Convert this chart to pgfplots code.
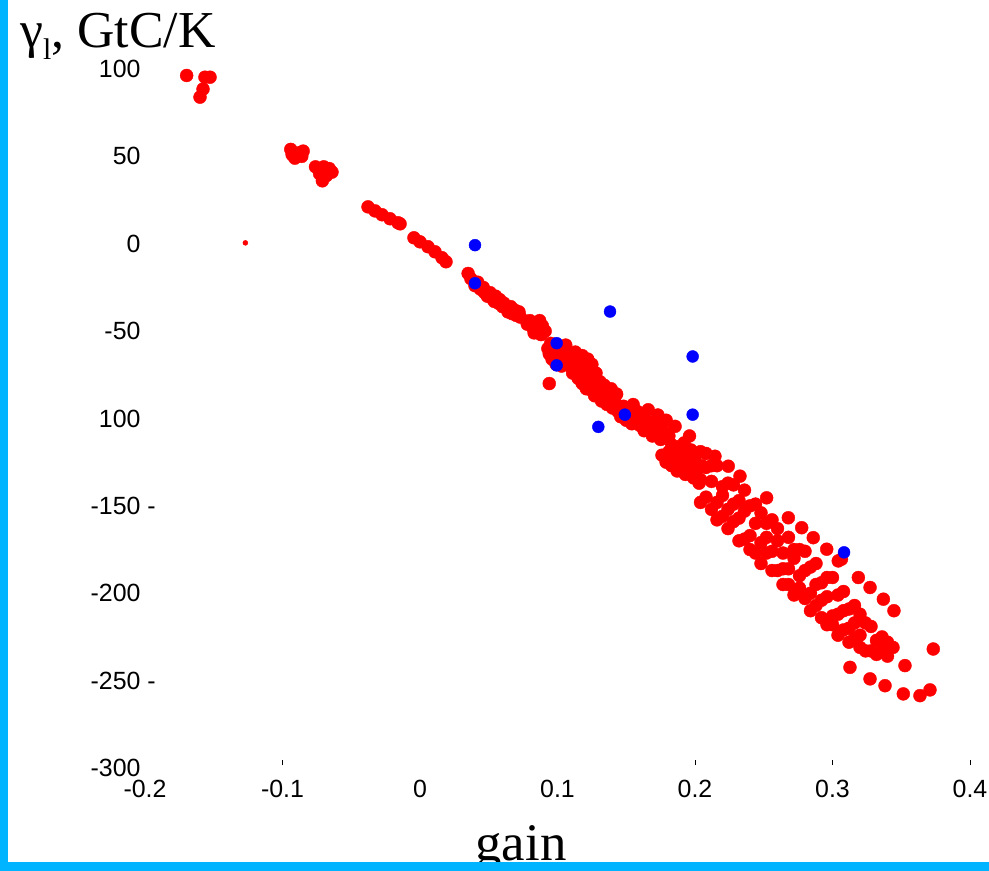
\documentclass[border=0pt]{standalone}
\usepackage{fontspec}
\setmainfont{Liberation Serif}
\newfontfamily\ticksans{Liberation Sans}
\usepackage{pgfplots}
\pgfplotsset{compat=1.18}
\definecolor{frameblue}{RGB}{0,180,255}
\begin{document}
\begin{tikzpicture}
\begin{axis}[
  at={(145bp,103bp)}, anchor=south west,
  scale only axis, width=825bp, height=699bp,
  xmin=-0.2, xmax=0.4, ymin=-300, ymax=100,
  axis line style={draw=none},
  clip=false,
  xtick={-0.2,-0.1,0,0.1,0.2,0.3,0.4},
  xticklabels={-0.2,-0.1,0,0.1,0.2,0.3,0.4},
  ytick={-300,-250,-200,-150,-100,-50,0,50,100},
  yticklabels={-300,{-250\rlap{ -}},-200,{-150\rlap{ -}},100,-50,0,50,100},
  xtick pos=left, ytick pos=left,
  major tick length=0pt,
  ticklabel style={font=\ticksans\fontsize{25}{25}\selectfont},
  /pgf/number format/assume math mode=true,
  xticklabel style={yshift=-9bp},
  yticklabel style={xshift=-1bp},
]
% red points
\addplot[only marks, mark=*, mark size=6.5pt, color=red, mark options={draw=red, fill=red}] coordinates {
(-0.1697,96.3)(-0.1564,95.3)(-0.1527,95.3)(-0.1578,88.5)(-0.160,83.9)
(-0.094,54)(-0.088,52)(-0.085,53)(-0.091,49)(-0.086,50)(-0.093,51)
(-0.076,44)(-0.070,44)(-0.066,43)(-0.073,40)(-0.068,39)(-0.071,36)(-0.064,41)
(-0.0378,21.1)(-0.0327,18.8)(-0.0276,16.6)(-0.0218,14.3)(-0.016,12.0)(-0.0145,11.4)
(-0.0044,3.4)(0,1.1)(0.0058,-1.7)(0.0109,-4.6)(0.016,-8.0)(0.0189,-10.3)
(0.035,-17)(0.037,-20)(0.040,-24)(0.042,-22)(0.044,-26)(0.046,-25)(0.047,-28)(0.049,-30)
(0.051,-28)(0.052,-31)(0.054,-33)(0.055,-30)(0.057,-34)(0.058,-32)(0.060,-36)(0.061,-34)
(0.063,-37)(0.064,-39)(0.066,-36)(0.067,-40)(0.069,-38)(0.070,-41)(0.072,-39)(0.073,-42)
(0.078,-46)(0.080,-44)(0.082,-48)(0.083,-51)(0.085,-46)(0.086,-49)(0.088,-52)(0.089,-47)(0.091,-50)(0.087,-44)
(0.094,-80)
(0.093,-60)(0.094,-63)(0.095,-57)(0.097,-61)(0.098,-65)(0.100,-59)(0.101,-63)(0.102,-67)
(0.104,-61)(0.105,-65)(0.106,-58)(0.096,-66)(0.099,-69)(0.103,-70)
(0.108,-64)(0.109,-70)(0.110,-66)(0.111,-74)(0.112,-68)(0.113,-62)(0.114,-72)(0.115,-77)
(0.116,-69)(0.117,-74)(0.118,-80)(0.119,-71)(0.120,-77)(0.121,-83)(0.122,-73)(0.123,-79)
(0.124,-76)(0.125,-84)(0.126,-80)(0.127,-87)(0.128,-74)(0.129,-82)(0.130,-86)(0.131,-79)
(0.132,-90)(0.133,-84)(0.134,-81)(0.135,-88)(0.136,-92)(0.137,-85)(0.138,-89)(0.139,-83)
(0.140,-94)(0.141,-87)(0.142,-91)(0.143,-86)(0.118,-64)(0.122,-66)(0.125,-69)
(0.144,-96)(0.146,-99)(0.148,-93)(0.150,-101)(0.151,-95)(0.153,-98)(0.154,-103)(0.155,-92)
(0.157,-100)(0.158,-96)(0.160,-104)(0.161,-99)(0.163,-107)(0.164,-101)(0.166,-95)(0.167,-104)
(0.169,-110)(0.170,-102)(0.172,-106)(0.173,-98)(0.175,-112)(0.176,-104)(0.178,-108)(0.179,-101)(0.181,-110)
(0.1855,-104.5)(0.189,-116)(0.196,-110)(0.2145,-121.6)(0.2242,-127.3)(0.2327,-133)
(0.176,-121)(0.179,-125)(0.181,-119)(0.183,-127)(0.185,-123)(0.187,-130)(0.189,-126)(0.191,-121)
(0.193,-132)(0.195,-128)(0.197,-124)(0.199,-134)(0.201,-130)(0.203,-137)(0.205,-127)
(0.183,-115)(0.188,-120)(0.192,-114)(0.197,-118)(0.200,-122)
(0.204,-119)(0.204,-135)(0.204,-148)(0.208,-128)(0.208,-145)(0.208,-120)
(0.212,-152)(0.212,-136)(0.212,-127)(0.216,-127)(0.216,-148)(0.216,-158)
(0.220,-139)(0.220,-156)(0.220,-144)(0.224,-163)(0.224,-137)(0.224,-152)
(0.228,-138)(0.228,-159)(0.228,-149)(0.232,-170)(0.232,-147)(0.232,-157)
(0.236,-141)(0.236,-169)(0.236,-153)(0.240,-167)(0.240,-150)(0.240,-175)
(0.244,-160)(0.244,-177)(0.244,-149)(0.248,-171)(0.248,-154)(0.248,-183)
(0.252,-160)(0.252,-177)(0.252,-168)(0.256,-187)(0.256,-158)(0.256,-176)
(0.260,-170)(0.260,-187)(0.260,-163)(0.264,-195)(0.264,-177)(0.264,-186)
(0.268,-168)(0.268,-186)(0.268,-195)(0.272,-180)(0.272,-201)(0.272,-175)
(0.276,-197)(0.276,-175)(0.276,-190)(0.280,-176)(0.280,-203)(0.280,-187)
(0.284,-200)(0.284,-185)(0.284,-210)(0.288,-195)(0.288,-207)(0.288,-183)
(0.292,-214)(0.292,-194)(0.292,-204)(0.296,-191)(0.296,-218)(0.296,-202)
(0.300,-213)(0.300,-191)(0.300,-218)(0.304,-201)(0.304,-212)(0.304,-224)
(0.308,-199)(0.308,-221)(0.308,-210)(0.312,-228)(0.312,-209)(0.312,-220)
(0.316,-207)(0.316,-226)(0.316,-217)(0.320,-231)(0.320,-212)(0.320,-224)
(0.324,-217)(0.324,-233)(0.328,-233)(0.328,-219)(0.332,-227)(0.332,-235)
(0.336,-225)(0.336,-233)(0.340,-228)(0.340,-236)(0.344,-231)
(0.2521,-145.4)(0.2679,-156.8)(0.2776,-162.5)(0.286,-168.2)(0.2958,-174.8)(0.3042,-181.5)
(0.3188,-191)(0.3273,-196.7)(0.3370,-203.4)(0.3447,-210)
(0.3733,-231.9)(0.3527,-241.4)(0.3127,-242.4)(0.3273,-249.0)(0.3382,-252.9)(0.3515,-257.6)
(0.3636,-258.6)(0.3709,-255.3)(0.3065,-180.5)
};
% tiny red fragment
\addplot[only marks, mark=*, mark size=2.5pt, color=red, mark options={draw=red, fill=red}] coordinates {(-0.127,0.5)};
% blue points
\addplot[only marks, mark=*, mark size=6pt, color=blue, mark options={draw=blue, fill=blue}] coordinates {
(0.040,-0.8)(0.040,-22.6)(0.1382,-38.8)(0.0994,-56.9)(0.0994,-69.6)
(0.1983,-64.5)(0.1983,-97.8)(0.149,-97.8)(0.1297,-104.8)(0.3084,-176.6)
};
% small stray tick marks
\draw[black, line width=1bp] (axis cs:-0.1,-298.3) -- (axis cs:-0.1,-295.3);
\draw[black, line width=1bp] (axis cs:0.2,-298.3) -- (axis cs:0.2,-295.3);
\draw[black, line width=1bp] (axis cs:0.3,-298.3) -- (axis cs:0.3,-295.3);
\draw[black, line width=1bp] (axis cs:0.4,-298.3) -- (axis cs:0.4,-295.3);
\end{axis}
\node[anchor=base west, inner sep=0pt] at (20bp,823bp) {\fontsize{52}{52}\selectfont γ\raisebox{-0.22em}{\fontsize{30}{30}\selectfont l}, GtC/K};
\node[anchor=base, inner sep=0pt] at (521bp,11bp) {\fontsize{53}{53}\selectfont gain};
\fill[frameblue] (0,0) rectangle (8bp,871bp);
\fill[frameblue] (0,0) rectangle (989bp,9bp);
\pgfresetboundingbox
\useasboundingbox (0,0) rectangle (989bp,871bp);
\end{tikzpicture}
\end{document}
